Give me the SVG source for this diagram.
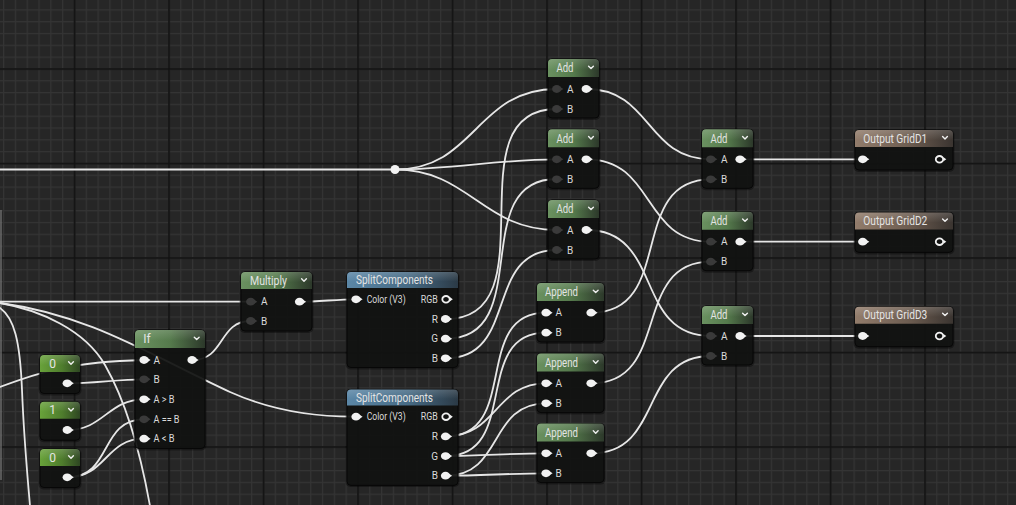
<svg xmlns="http://www.w3.org/2000/svg" width="1016" height="505" viewBox="0 0 1016 505">
<defs>
<style>
.wire{fill:none;stroke:#e6e6e6;stroke-width:1.8;stroke-linecap:round}
.body{fill:#121312;fill-opacity:.9;stroke:#070707;stroke-width:1}
.shadow{fill:#000;opacity:.35}
.hdr{font-family:Roboto,"Liberation Sans",sans-serif;font-size:12px;fill:#e4e4e4}
.lbl{font-family:Roboto,"Liberation Sans",sans-serif;font-size:10px;fill:#dadada}
.end{text-anchor:end}
.chev{fill:none;stroke:#f0f0f0;stroke-width:1.4;stroke-linecap:round;stroke-linejoin:round}
</style>
<pattern id="minor" patternUnits="userSpaceOnUse" x="3.0" y="9.3" width="11.8125" height="11.8125">
<rect width="11.8125" height="1.2" fill="#343434"/><rect width="1.2" height="11.8125" fill="#343434"/>
</pattern>
<pattern id="major" patternUnits="userSpaceOnUse" x="73.7" y="68.2" width="94.5" height="94.5">
<rect width="94.5" height="1.7" fill="#121212"/><rect width="1.7" height="94.5" fill="#121212"/>
</pattern>
<linearGradient id="gAdd" x1="0" x2="1" y1="0" y2="0"><stop offset="0" stop-color="#6a9160"/><stop offset=".5" stop-color="#557a4c"/><stop offset="1" stop-color="#2c382a"/></linearGradient>
<linearGradient id="gConst" x1="0" x2="1" y1="0" y2="0"><stop offset="0" stop-color="#68a23a"/><stop offset=".55" stop-color="#4f7d2d"/><stop offset="1" stop-color="#2e4622"/></linearGradient>
<linearGradient id="gOut" x1="0" x2="1" y1="0" y2="0"><stop offset="0" stop-color="#927c6b"/><stop offset=".55" stop-color="#6d5d51"/><stop offset="1" stop-color="#3a3430"/></linearGradient>
<linearGradient id="gSplit" x1="0" x2="1" y1="0" y2="0"><stop offset="0" stop-color="#5b87a7"/><stop offset=".55" stop-color="#476b85"/><stop offset="1" stop-color="#2b3a46"/></linearGradient>
<linearGradient id="gloss" x1="0" x2="0" y1="0" y2="1"><stop offset="0" stop-color="#fff" stop-opacity=".16"/><stop offset=".6" stop-color="#fff" stop-opacity="0"/></linearGradient>
<g id="pw"><ellipse rx="4.6" ry="3.9" fill="#f2f2f2"/><path d="M3.2,-2.3L6.6,0L3.2,2.3Z" fill="#f2f2f2"/></g>
<g id="pd"><ellipse rx="4.6" ry="3.9" fill="#3a3a3a"/><path d="M3.2,-2.3L6.6,0L3.2,2.3Z" fill="#3a3a3a"/></g>
<g id="pr"><ellipse rx="3.7" ry="3.3" fill="none" stroke="#f2f2f2" stroke-width="1.8"/><path d="M4,-2L6.8,0L4,2Z" fill="#f2f2f2"/></g>
</defs>

<rect width="1016" height="505" fill="#262626"/>
<rect width="1016" height="505" fill="url(#minor)"/>
<rect width="1016" height="505" fill="url(#major)"/>
<line x1="1" y1="210" x2="1" y2="480" stroke="#7a7a7a" stroke-width="1.2"/>

<g id="connectors">
<path class="wire" d="M0,169.5H395"/>
<path class="wire" d="M395,169.5C475.7,169.5 476,89 556.7,89"/>
<path class="wire" d="M395,169.5C452.3,169.5 499.4,159.3 556.7,159.3"/>
<path class="wire" d="M395,169.5C469.1,169.5 482.6,230 556.7,230"/>
<path class="wire" d="M446,319C552.9,319 449.8,109 556.7,109"/>
<path class="wire" d="M446,338.7C536.1,338.7 466.6,179 556.7,179"/>
<path class="wire" d="M446,358.3C519,358.3 483.7,250 556.7,250"/>
<path class="wire" d="M586.7,89C651.5,89 645.9,159.3 710.7,159.3"/>
<path class="wire" d="M586.7,159.3C655.5,159.3 641.9,241.7 710.7,241.7"/>
<path class="wire" d="M586.7,230C663.4,230 634,336 710.7,336"/>
<path class="wire" d="M591.7,312.7C675.8,312.7 626.6,179.3 710.7,179.3"/>
<path class="wire" d="M591.7,383.3C671.9,383.3 630.5,261.7 710.7,261.7"/>
<path class="wire" d="M591.7,453.3C663.8,453.3 638.6,356 710.7,356"/>
<path class="wire" d="M740,159.3H862.7"/>
<path class="wire" d="M740,241.7H862.7"/>
<path class="wire" d="M740,336H862.7"/>
<path class="wire" d="M300,301.7C319.5,301.7 336.5,299.3 356,299.3"/>
<path class="wire" d="M192.7,360C225,360 218.4,321 250.7,321"/>
<path class="wire" d="M446,436.4C520.7,436.4 471.3,312.7 546,312.7"/>
<path class="wire" d="M446,436.4C497.1,436.4 494.9,383.3 546,383.3"/>
<path class="wire" d="M446,456.1C520.7,456.1 471.3,332.7 546,332.7"/>
<path class="wire" d="M446,456.1C480.5,456.1 511.5,453.3 546,453.3"/>
<path class="wire" d="M446,475.7C503.6,475.7 488.4,403.3 546,403.3"/>
<path class="wire" d="M446,475.7C480.2,475.7 511.8,473.3 546,473.3"/>
<path class="wire" d="M67.7,383.3C94.5,383.3 117.2,379.3 144,379.3"/>
<path class="wire" d="M67.7,430C103.4,430 108.3,399.3 144,399.3"/>
<path class="wire" d="M67.7,477.3C112.5,477.3 99.2,419.3 144,419.3"/>
<path class="wire" d="M67.7,477.3C106,477.3 105.7,438.7 144,438.7"/>
<path class="wire" d="M0,301.7H250.7"/>
<path class="wire" d="M0,303C90,315 150,355 230,392C270,410 310,417 356,416.7"/>
<path class="wire" d="M0,303C40,310 85,330 105,365C125,400 140,450 150,506"/>
<path class="wire" d="M0,308C14,318 20,340 22,390C24,440 27,470 30,506"/>
<path class="wire" d="M0,387C40,372 70,362 144,360"/>
<circle cx="395" cy="169.5" r="4.5" fill="#f2f2f2"/>
</g>

<g id="add-1" transform="translate(548,59)">
<rect class="shadow" x="-1.5" y="-0.5" width="54" height="61.5" rx="5"/>
<rect class="body" width="51" height="59" rx="4"/>
<path fill="url(#gAdd)" d="M0,18V4Q0,0 4,0H47Q51,0 51,4V18Z"/><path fill="url(#gloss)" d="M0,18V4Q0,0 4,0H47Q51,0 51,4V18Z"/>
<text class="hdr" x="8.5" y="13.3" textLength="17" lengthAdjust="spacingAndGlyphs">Add</text><path class="chev" d="M40.6,7.2l2.4,2.4l2.4,-2.4"/>
<use href="#pd" x="8.7" y="30"/><text class="lbl" x="19" y="33.6">A</text>
<use href="#pd" x="8.7" y="50"/><text class="lbl" x="19" y="53.6">B</text>
<use href="#pw" x="38.2" y="30"/>
</g>
<g id="add-2" transform="translate(548,129.3)">
<rect class="shadow" x="-1.5" y="-0.5" width="54" height="61.5" rx="5"/>
<rect class="body" width="51" height="59" rx="4"/>
<path fill="url(#gAdd)" d="M0,18V4Q0,0 4,0H47Q51,0 51,4V18Z"/><path fill="url(#gloss)" d="M0,18V4Q0,0 4,0H47Q51,0 51,4V18Z"/>
<text class="hdr" x="8.5" y="13.3" textLength="17" lengthAdjust="spacingAndGlyphs">Add</text><path class="chev" d="M40.6,7.2l2.4,2.4l2.4,-2.4"/>
<use href="#pd" x="8.7" y="30"/><text class="lbl" x="19" y="33.6">A</text>
<use href="#pd" x="8.7" y="50"/><text class="lbl" x="19" y="53.6">B</text>
<use href="#pw" x="38.2" y="30"/>
</g>
<g id="add-3" transform="translate(548,200)">
<rect class="shadow" x="-1.5" y="-0.5" width="54" height="61.5" rx="5"/>
<rect class="body" width="51" height="59" rx="4"/>
<path fill="url(#gAdd)" d="M0,18V4Q0,0 4,0H47Q51,0 51,4V18Z"/><path fill="url(#gloss)" d="M0,18V4Q0,0 4,0H47Q51,0 51,4V18Z"/>
<text class="hdr" x="8.5" y="13.3" textLength="17" lengthAdjust="spacingAndGlyphs">Add</text><path class="chev" d="M40.6,7.2l2.4,2.4l2.4,-2.4"/>
<use href="#pd" x="8.7" y="30"/><text class="lbl" x="19" y="33.6">A</text>
<use href="#pd" x="8.7" y="50"/><text class="lbl" x="19" y="53.6">B</text>
<use href="#pw" x="38.2" y="30"/>
</g>

<g id="add-4" transform="translate(702,129.3)">
<rect class="shadow" x="-1.5" y="-0.5" width="54" height="61.5" rx="5"/>
<rect class="body" width="51" height="59" rx="4"/>
<path fill="url(#gAdd)" d="M0,18V4Q0,0 4,0H47Q51,0 51,4V18Z"/><path fill="url(#gloss)" d="M0,18V4Q0,0 4,0H47Q51,0 51,4V18Z"/>
<text class="hdr" x="8.5" y="13.3" textLength="17" lengthAdjust="spacingAndGlyphs">Add</text><path class="chev" d="M40.6,7.2l2.4,2.4l2.4,-2.4"/>
<use href="#pd" x="8.7" y="30"/><text class="lbl" x="19" y="33.6">A</text>
<use href="#pd" x="8.7" y="50"/><text class="lbl" x="19" y="53.6">B</text>
<use href="#pw" x="38" y="30"/>
</g>
<g id="add-5" transform="translate(702,211.7)">
<rect class="shadow" x="-1.5" y="-0.5" width="54" height="61.5" rx="5"/>
<rect class="body" width="51" height="59" rx="4"/>
<path fill="url(#gAdd)" d="M0,18V4Q0,0 4,0H47Q51,0 51,4V18Z"/><path fill="url(#gloss)" d="M0,18V4Q0,0 4,0H47Q51,0 51,4V18Z"/>
<text class="hdr" x="8.5" y="13.3" textLength="17" lengthAdjust="spacingAndGlyphs">Add</text><path class="chev" d="M40.6,7.2l2.4,2.4l2.4,-2.4"/>
<use href="#pd" x="8.7" y="30"/><text class="lbl" x="19" y="33.6">A</text>
<use href="#pd" x="8.7" y="50"/><text class="lbl" x="19" y="53.6">B</text>
<use href="#pw" x="38" y="30"/>
</g>
<g id="add-6" transform="translate(702,306)">
<rect class="shadow" x="-1.5" y="-0.5" width="54" height="61.5" rx="5"/>
<rect class="body" width="51" height="59" rx="4"/>
<path fill="url(#gAdd)" d="M0,18V4Q0,0 4,0H47Q51,0 51,4V18Z"/><path fill="url(#gloss)" d="M0,18V4Q0,0 4,0H47Q51,0 51,4V18Z"/>
<text class="hdr" x="8.5" y="13.3" textLength="17" lengthAdjust="spacingAndGlyphs">Add</text><path class="chev" d="M40.6,7.2l2.4,2.4l2.4,-2.4"/>
<use href="#pd" x="8.7" y="30"/><text class="lbl" x="19" y="33.6">A</text>
<use href="#pd" x="8.7" y="50"/><text class="lbl" x="19" y="53.6">B</text>
<use href="#pw" x="38" y="30"/>
</g>

<g id="output-1" transform="translate(855,130)">
<rect class="shadow" x="-1.5" y="-0.5" width="101" height="42.5" rx="5"/>
<rect class="body" width="98" height="40" rx="4"/>
<path fill="url(#gOut)" d="M0,17V4Q0,0 4,0H94Q98,0 98,4V17Z"/><path fill="url(#gloss)" d="M0,17V4Q0,0 4,0H94Q98,0 98,4V17Z"/>
<text class="hdr" x="8.3" y="12.8" textLength="64" lengthAdjust="spacingAndGlyphs">Output GridD1</text><path class="chev" d="M87.6,6.5l2.4,2.4l2.4,-2.4"/>
<use href="#pw" x="7.7" y="29.3"/><use href="#pr" x="84.5" y="29.3"/>
</g>
<g id="output-2" transform="translate(855,212.4)">
<rect class="shadow" x="-1.5" y="-0.5" width="101" height="42.5" rx="5"/>
<rect class="body" width="98" height="40" rx="4"/>
<path fill="url(#gOut)" d="M0,17V4Q0,0 4,0H94Q98,0 98,4V17Z"/><path fill="url(#gloss)" d="M0,17V4Q0,0 4,0H94Q98,0 98,4V17Z"/>
<text class="hdr" x="8.3" y="12.8" textLength="64" lengthAdjust="spacingAndGlyphs">Output GridD2</text><path class="chev" d="M87.6,6.5l2.4,2.4l2.4,-2.4"/>
<use href="#pw" x="7.7" y="29.3"/><use href="#pr" x="84.5" y="29.3"/>
</g>
<g id="output-3" transform="translate(855,306.7)">
<rect class="shadow" x="-1.5" y="-0.5" width="101" height="42.5" rx="5"/>
<rect class="body" width="98" height="40" rx="4"/>
<path fill="url(#gOut)" d="M0,17V4Q0,0 4,0H94Q98,0 98,4V17Z"/><path fill="url(#gloss)" d="M0,17V4Q0,0 4,0H94Q98,0 98,4V17Z"/>
<text class="hdr" x="8.3" y="12.8" textLength="64" lengthAdjust="spacingAndGlyphs">Output GridD3</text><path class="chev" d="M87.6,6.5l2.4,2.4l2.4,-2.4"/>
<use href="#pw" x="7.7" y="29.3"/><use href="#pr" x="84.5" y="29.3"/>
</g>

<g id="multiply" transform="translate(241,272)">
<rect class="shadow" x="-1.5" y="-0.5" width="74" height="61.5" rx="5"/>
<rect class="body" width="71" height="59" rx="4"/>
<path fill="url(#gAdd)" d="M0,17V4Q0,0 4,0H67Q71,0 71,4V17Z"/><path fill="url(#gloss)" d="M0,17V4Q0,0 4,0H67Q71,0 71,4V17Z"/>
<text class="hdr" x="9" y="13" textLength="37" lengthAdjust="spacingAndGlyphs">Multiply</text><path class="chev" d="M60.6,6.8l2.4,2.4l2.4,-2.4"/>
<use href="#pd" x="9.7" y="29.7"/><text class="lbl" x="20" y="33.3">A</text>
<use href="#pd" x="9.7" y="49"/><text class="lbl" x="20" y="52.6">B</text>
<use href="#pw" x="58.5" y="29.7"/>
</g>

<g id="split-1" transform="translate(347,272)">
<rect class="shadow" x="-1.5" y="-0.5" width="114" height="98" rx="5"/>
<rect class="body" width="111" height="95.5" rx="4"/>
<path fill="url(#gSplit)" d="M0,16V4Q0,0 4,0H107Q111,0 111,4V16Z"/><path fill="url(#gloss)" d="M0,16V4Q0,0 4,0H107Q111,0 111,4V16Z"/>
<text class="hdr" x="9" y="12.3" textLength="77" lengthAdjust="spacingAndGlyphs">SplitComponents</text>
<use href="#pw" x="9" y="27.3"/><text class="lbl" x="19.7" y="30.8" textLength="39" lengthAdjust="spacingAndGlyphs">Color (V3)</text>
<text class="lbl end" x="90.8" y="30.8" textLength="17" lengthAdjust="spacingAndGlyphs">RGB</text><use href="#pr" x="99" y="27.3"/>
<text class="lbl end" x="91" y="50.5">R</text><use href="#pw" x="98.5" y="47"/>
<text class="lbl end" x="91" y="70.2">G</text><use href="#pw" x="98.5" y="66.7"/>
<text class="lbl end" x="91" y="89.8">B</text><use href="#pw" x="98.5" y="86.3"/>
</g>
<g id="split-2" transform="translate(347,389.4)">
<rect class="shadow" x="-1.5" y="-0.5" width="114" height="98" rx="5"/>
<rect class="body" width="111" height="96" rx="4"/>
<path fill="url(#gSplit)" d="M0,16V4Q0,0 4,0H107Q111,0 111,4V16Z"/><path fill="url(#gloss)" d="M0,16V4Q0,0 4,0H107Q111,0 111,4V16Z"/>
<text class="hdr" x="9" y="12.3" textLength="77" lengthAdjust="spacingAndGlyphs">SplitComponents</text>
<use href="#pw" x="9" y="27.3"/><text class="lbl" x="19.7" y="30.8" textLength="39" lengthAdjust="spacingAndGlyphs">Color (V3)</text>
<text class="lbl end" x="90.8" y="30.8" textLength="17" lengthAdjust="spacingAndGlyphs">RGB</text><use href="#pr" x="99" y="27.3"/>
<text class="lbl end" x="91" y="50.5">R</text><use href="#pw" x="98.5" y="47"/>
<text class="lbl end" x="91" y="70.2">G</text><use href="#pw" x="98.5" y="66.7"/>
<text class="lbl end" x="91" y="89.8">B</text><use href="#pw" x="98.5" y="86.3"/>
</g>

<g id="append-1" transform="translate(537,283)">
<rect class="shadow" x="-1.5" y="-0.5" width="70" height="61.5" rx="5"/>
<rect class="body" width="67" height="59" rx="4"/>
<path fill="url(#gAdd)" d="M0,18V4Q0,0 4,0H63Q67,0 67,4V18Z"/><path fill="url(#gloss)" d="M0,18V4Q0,0 4,0H63Q67,0 67,4V18Z"/>
<text class="hdr" x="8" y="13.3" textLength="33" lengthAdjust="spacingAndGlyphs">Append</text><path class="chev" d="M56.3,7.2l2.4,2.4l2.4,-2.4"/>
<use href="#pw" x="9" y="29.7"/><text class="lbl" x="18.5" y="33.3">A</text>
<use href="#pw" x="9" y="49.7"/><text class="lbl" x="18.5" y="53.3">B</text>
<use href="#pw" x="54" y="29.7"/>
</g>
<g id="append-2" transform="translate(537,353.6)">
<rect class="shadow" x="-1.5" y="-0.5" width="70" height="61.5" rx="5"/>
<rect class="body" width="67" height="59" rx="4"/>
<path fill="url(#gAdd)" d="M0,18V4Q0,0 4,0H63Q67,0 67,4V18Z"/><path fill="url(#gloss)" d="M0,18V4Q0,0 4,0H63Q67,0 67,4V18Z"/>
<text class="hdr" x="8" y="13.3" textLength="33" lengthAdjust="spacingAndGlyphs">Append</text><path class="chev" d="M56.3,7.2l2.4,2.4l2.4,-2.4"/>
<use href="#pw" x="9" y="29.7"/><text class="lbl" x="18.5" y="33.3">A</text>
<use href="#pw" x="9" y="49.7"/><text class="lbl" x="18.5" y="53.3">B</text>
<use href="#pw" x="54" y="29.7"/>
</g>
<g id="append-3" transform="translate(537,423.6)">
<rect class="shadow" x="-1.5" y="-0.5" width="70" height="61.5" rx="5"/>
<rect class="body" width="67" height="59" rx="4"/>
<path fill="url(#gAdd)" d="M0,18V4Q0,0 4,0H63Q67,0 67,4V18Z"/><path fill="url(#gloss)" d="M0,18V4Q0,0 4,0H63Q67,0 67,4V18Z"/>
<text class="hdr" x="8" y="13.3" textLength="33" lengthAdjust="spacingAndGlyphs">Append</text><path class="chev" d="M56.3,7.2l2.4,2.4l2.4,-2.4"/>
<use href="#pw" x="9" y="29.7"/><text class="lbl" x="18.5" y="33.3">A</text>
<use href="#pw" x="9" y="49.7"/><text class="lbl" x="18.5" y="53.3">B</text>
<use href="#pw" x="54" y="29.7"/>
</g>

<g id="if" transform="translate(135,330)">
<rect class="shadow" x="-1.5" y="-0.5" width="73" height="121" rx="5"/>
<rect class="body" width="70" height="118.5" rx="4"/>
<path fill="url(#gAdd)" d="M0,18V4Q0,0 4,0H66Q70,0 70,4V18Z"/><path fill="url(#gloss)" d="M0,18V4Q0,0 4,0H66Q70,0 70,4V18Z"/>
<text class="hdr" x="8.3" y="13.3">If</text><path class="chev" d="M59.3,7.2l2.4,2.4l2.4,-2.4"/>
<use href="#pw" x="9" y="30"/><text class="lbl" x="18.5" y="33.6">A</text>
<use href="#pd" x="9" y="49.3"/><text class="lbl" x="18.5" y="52.9">B</text>
<use href="#pw" x="9" y="69.3"/><text class="lbl" x="18.5" y="72.9" textLength="21" lengthAdjust="spacingAndGlyphs">A &gt; B</text>
<use href="#pd" x="9" y="89.3"/><text class="lbl" x="18.5" y="92.9" textLength="26" lengthAdjust="spacingAndGlyphs">A == B</text>
<use href="#pw" x="9" y="108.7"/><text class="lbl" x="18.5" y="112.3" textLength="21" lengthAdjust="spacingAndGlyphs">A &lt; B</text>
<use href="#pw" x="57" y="30"/>
</g>

<g id="const-0a" transform="translate(40,355)">
<rect class="shadow" x="-1.5" y="-0.5" width="43" height="41" rx="5"/>
<rect class="body" width="40" height="38.5" rx="4"/>
<path fill="url(#gConst)" d="M0,17V4Q0,0 4,0H36Q40,0 40,4V17Z"/><path fill="url(#gloss)" d="M0,17V4Q0,0 4,0H36Q40,0 40,4V17Z"/>
<text class="hdr" x="9.3" y="12.8">0</text><path class="chev" d="M28.6,6.8l2.4,2.4l2.4,-2.4"/>
<use href="#pw" x="27.2" y="28.3"/>
</g>
<g id="const-1" transform="translate(40,401.7)">
<rect class="shadow" x="-1.5" y="-0.5" width="43" height="41" rx="5"/>
<rect class="body" width="40" height="38.5" rx="4"/>
<path fill="url(#gConst)" d="M0,17V4Q0,0 4,0H36Q40,0 40,4V17Z"/><path fill="url(#gloss)" d="M0,17V4Q0,0 4,0H36Q40,0 40,4V17Z"/>
<text class="hdr" x="9.3" y="12.8">1</text><path class="chev" d="M28.6,6.8l2.4,2.4l2.4,-2.4"/>
<use href="#pw" x="27.2" y="28.3"/>
</g>
<g id="const-0b" transform="translate(40,449)">
<rect class="shadow" x="-1.5" y="-0.5" width="43" height="41" rx="5"/>
<rect class="body" width="40" height="38.5" rx="4"/>
<path fill="url(#gConst)" d="M0,17V4Q0,0 4,0H36Q40,0 40,4V17Z"/><path fill="url(#gloss)" d="M0,17V4Q0,0 4,0H36Q40,0 40,4V17Z"/>
<text class="hdr" x="9.3" y="12.8">0</text><path class="chev" d="M28.6,6.8l2.4,2.4l2.4,-2.4"/>
<use href="#pw" x="27.2" y="28.3"/>
</g>
</svg>
